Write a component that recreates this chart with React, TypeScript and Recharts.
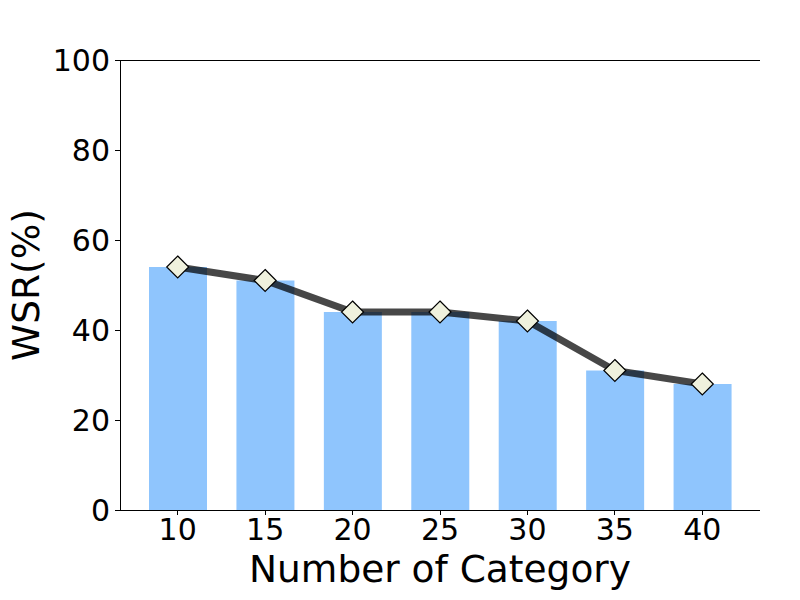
import React from 'react';
import { ComposedChart, Bar, Line, XAxis, YAxis, Label, ReferenceLine } from 'recharts';

const categories = ['10', '15', '20', '25', '30', '35', '40'];
const wsrBars = [54, 51, 44, 44, 42, 31, 28];
const wsrLine = [54, 51, 44, 44, 42, 31, 28];
const yTicks = [0, 20, 40, 60, 80, 100];

const data = categories.map((c, i) => ({ cat: c, bar: wsrBars[i], line: wsrLine[i] }));

const FONT = '"DejaVu Sans", sans-serif';

const Diamond = (props: any) => {
  const { cx, cy } = props;
  if (cx == null || cy == null) return null;
  const r = 11;
  return (
    <path
      d={`M${cx},${cy - r} L${cx + r},${cy} L${cx},${cy + r} L${cx - r},${cy} Z`}
      fill="#eff1dd"
      stroke="#000"
      strokeWidth={1.2}
    />
  );
};

const crisp = { stroke: '#000', shapeRendering: 'crispEdges' } as any;

export default function App() {
  return (
    <div style={{ marginLeft: -8, marginTop: -8, width: 800, height: 600 }}>
      <ComposedChart
        width={800}
        height={600}
        data={data}
        margin={{ top: 60, right: 40, left: 0, bottom: 0 }}
      >
        <XAxis
          dataKey="cat"
          height={90}
          padding={{ left: 14, right: 14 }}
          tickSize={5}
          tickMargin={4}
          tickLine={crisp}
          axisLine={crisp}
          tick={{ fill: '#000', fontSize: 30, fontFamily: FONT }}
          interval={0}
        >
          <Label
            content={(p: any) => {
              const vb = p.viewBox || {};
              return (
                <text
                  x={vb.x + vb.width / 2}
                  y={vb.y + 72}
                  textAnchor="middle"
                  fontSize={37.5}
                  fontFamily={FONT}
                  fill="#000"
                >
                  Number of Category
                </text>
              );
            }}
          />
        </XAxis>
        <YAxis
          width={120}
          domain={[0, 100]}
          ticks={yTicks}
          tickSize={5}
          tickMargin={5}
          tickLine={crisp}
          axisLine={crisp}
          tick={{ fill: '#000', fontSize: 30, fontFamily: FONT }}
          interval={0}
        >
          <Label
            content={(p: any) => {
              const vb = p.viewBox || {};
              const x = vb.x + 39;
              const y = vb.y + vb.height / 2;
              return (
                <text
                  x={x}
                  y={y}
                  transform={`rotate(-90 ${x} ${y})`}
                  textAnchor="middle"
                  fontSize={37.5}
                  fontFamily={FONT}
                  fill="#000"
                >
                  WSR(%)
                </text>
              );
            }}
          />
        </YAxis>
        <YAxis
          yAxisId="right"
          orientation="right"
          width={0}
          domain={[0, 100]}
          tick={false}
          tickLine={false}
          axisLine={crisp}
        />
        <ReferenceLine y={100} stroke="#000" strokeWidth={1} shapeRendering="crispEdges" />
        <Bar dataKey="bar" fill="#8fc5fd" barSize={58} isAnimationActive={false} />
        <Line
          dataKey="line"
          stroke="#000"
          strokeOpacity={0.72}
          strokeWidth={7}
          dot={<Diamond />}
          activeDot={false}
          isAnimationActive={false}
        />
      </ComposedChart>
    </div>
  );
}
